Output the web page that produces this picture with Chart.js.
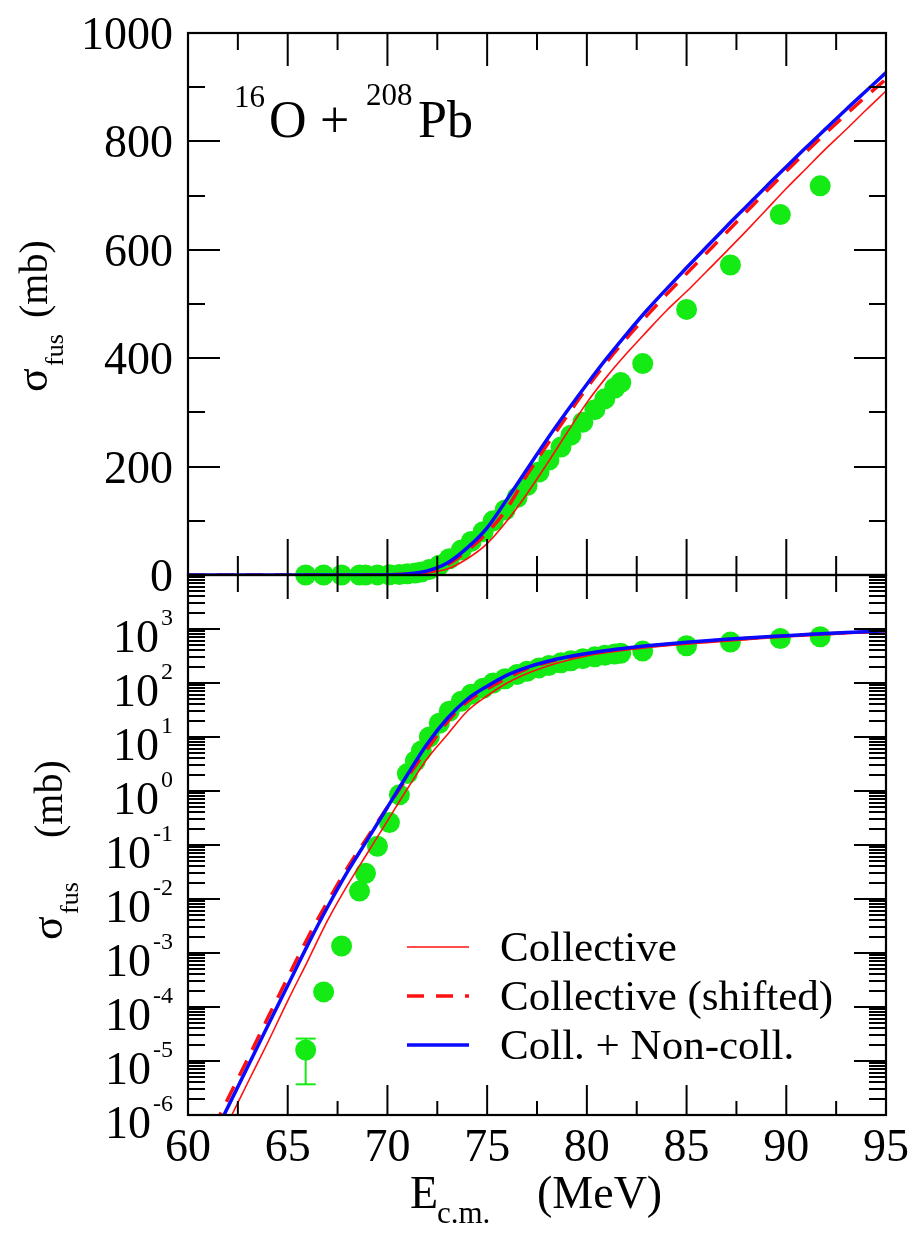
<!DOCTYPE html>
<html>
<head>
<meta charset="utf-8">
<script src="https://cdn.jsdelivr.net/npm/chart.js@4.4.1/dist/chart.umd.min.js"></script>
<style>
html, body { margin: 0; padding: 0; background: #fff; }
#wrap { position: relative; width: 916px; height: 1236px; }
canvas { position: absolute; left: 0; top: 0; }
</style>
</head>
<body>
<div id="wrap">
  <canvas id="linchart" width="916" height="1236"></canvas>
  <canvas id="logchart" width="916" height="1236"></canvas>
</div>
<script>
// energies (MeV) for the calculated curves
var energy = [60, 61, 62, 63, 64, 65, 66, 67, 68, 69, 70, 71, 72, 73, 74, 75, 76, 77,
              78, 79, 80, 81, 82, 83, 84, 85, 86, 87, 88, 89, 90, 91, 92, 93, 94, 95];
// sigma_fus (mb)
var collective = [2.2e-8, 1.3e-7, 7.1e-7, 4.0e-6, 2.2e-5, 1.3e-4, 7.1e-4, 4.0e-3, 1.8e-2, 7.1e-2,
                  0.28, 1.1, 4.0, 11, 30, 58, 100, 150, 205, 262, 318, 366, 409, 449, 488, 523,
                  560, 597, 635, 674, 713, 750, 787, 822, 858, 893];
var shifted = [6.3e-8, 3.5e-7, 2.0e-6, 1.1e-5, 6.3e-5, 3.5e-4, 1.9e-3, 8.9e-3, 3.8e-2, 0.14,
               0.5, 1.8, 6.0, 19, 45, 78, 123, 185, 240, 293, 345, 393, 437, 478, 518, 556,
               594, 632, 670, 708, 745, 781, 816, 850, 883, 915];
var nonColl = [4.5e-8, 2.5e-7, 1.4e-6, 7.9e-6, 4.5e-5, 2.5e-4, 1.4e-3, 7.1e-3, 3.2e-2, 0.126,
               0.5, 2.0, 7.5, 22, 50, 87, 140, 195, 250, 302, 352, 400, 445, 488, 528, 567,
               605, 643, 680, 717, 753, 789, 824, 859, 893, 927];

// experimental points
var expE = [65.9, 66.8, 67.7, 68.6, 68.9, 69.5, 70.1, 70.6, 71.0, 71.4, 71.7, 72.1, 72.6, 73.1,
            73.7, 74.2, 74.8, 75.3, 75.9, 76.5, 77.0, 77.6, 78.1, 78.7, 79.2, 79.8, 80.4, 80.9,
            81.4, 81.7, 82.8, 85.0, 87.2, 89.7, 91.7];
var expSigma = [1.6e-5, 1.9e-4, 1.35e-3, 1.4e-2, 3.0e-2, 9.5e-2, 0.26, 0.85, 2.1, 3.6, 5.5, 10,
                18, 30, 46, 62, 80, 100, 120, 143, 165, 190, 212, 236, 258, 282, 305, 325,
                345, 355, 390, 490, 572, 665, 718];
var errE = [65.9];
var errLow = [3.7e-6];
var errHigh = [2.6e-5];

// axes
var xMajor = [60, 65, 70, 75, 80, 85, 90, 95];
var xMinor = [62.5, 67.5, 72.5, 77.5, 82.5, 87.5, 92.5];
var linMajor = [0, 200, 400, 600, 800, 1000];
var linMinor = [100, 300, 500, 700, 900];
var logDecades = [-6, -5, -4, -3, -2, -1, 0, 1, 2, 3];

var serif = '"Liberation Serif", "Times New Roman", serif';
var green = '#14ea14';

function pts(xs, ys) {
    return xs.map(function(x, i){ return {x: x, y: ys[i]}; });
}

function curveSets(){
    return [
        {label: 'Collective', data: pts(energy, collective), showLine: true, pointRadius: 0,
         borderColor: '#ff1010', borderWidth: 1.6, cubicInterpolationMode: 'monotone', order: 3},
        {label: 'Collective (shifted)', data: pts(energy, shifted), showLine: true, pointRadius: 0,
         borderColor: '#ff1010', borderWidth: 3.5, borderDash: [17, 12],
         cubicInterpolationMode: 'monotone', order: 2},
        {label: 'Coll. + Non-coll.', data: pts(energy, nonColl), showLine: true, pointRadius: 0,
         borderColor: '#0a0aff', borderWidth: 3.5, cubicInterpolationMode: 'monotone', order: 1},
        {label: 'exp', data: pts(expE, expSigma), showLine: false, pointRadius: 10.5,
         pointBackgroundColor: green, pointBorderColor: green, pointBorderWidth: 0,
         clip: false, order: 10}
    ];
}

function tickLine(ctx, x1, y1, x2, y2){
    ctx.beginPath();
    ctx.moveTo(x1, y1);
    ctx.lineTo(x2, y2);
    ctx.stroke();
}

var framePlugin = {
    id: 'frame',
    afterDraw: function(chart, args, opt){
        var ctx = chart.ctx, a = chart.chartArea;
        var xs = chart.scales.x, ys = chart.scales.y;
        ctx.save();
        ctx.strokeStyle = '#000';
        ctx.lineWidth = 2;
        // x ticks top and bottom, pointing inward
        xMajor.forEach(function(v){
            var px = xs.getPixelForValue(v);
            tickLine(ctx, px, a.bottom, px, a.bottom - opt.xMajB);
            tickLine(ctx, px, a.top, px, a.top + opt.xMajT);
        });
        xMinor.forEach(function(v){
            var px = xs.getPixelForValue(v);
            tickLine(ctx, px, a.bottom, px, a.bottom - opt.xMinB);
            tickLine(ctx, px, a.top, px, a.top + opt.xMinT);
        });
        // y ticks left and right
        var majors = [], minors = [];
        if(opt.log){
            logDecades.forEach(function(d){
                majors.push(Math.pow(10, d));
                for(var m = 2; m <= 9; m++) minors.push(m * Math.pow(10, d));
            });
            majors.push(1e4);
        }
        else{
            majors = linMajor; minors = linMinor;
        }
        majors.forEach(function(v){
            var py = Math.round(ys.getPixelForValue(v));
            if(py < a.top - 1 || py > a.bottom + 1) return;
            tickLine(ctx, a.left, py, a.left + 32, py);
            tickLine(ctx, a.right, py, a.right - 32, py);
        });
        minors.forEach(function(v){
            var py = Math.round(ys.getPixelForValue(v));
            if(py < a.top || py > a.bottom) return;
            tickLine(ctx, a.left, py, a.left + 17, py);
            tickLine(ctx, a.right, py, a.right - 17, py);
        });
        ctx.lineWidth = 2.2;
        ctx.strokeRect(a.left, a.top, a.right - a.left, a.bottom - a.top);

        // tick labels
        ctx.fillStyle = '#000';
        ctx.textBaseline = 'alphabetic';
        var lx = a.left - 15;
        if(opt.log){
            logDecades.forEach(function(d){
                var py = ys.getPixelForValue(Math.pow(10, d));
                ctx.font = '24px ' + serif;
                ctx.textAlign = 'right';
                var sup = String(d);
                var w = ctx.measureText(sup).width;
                ctx.fillText(sup, lx, py - 4);
                ctx.font = '46px ' + serif;
                ctx.fillText('10', lx - w - 2, py + 23);
            });
            ctx.font = '46px ' + serif;
            ctx.textAlign = 'center';
            xMajor.forEach(function(v){
                ctx.fillText(String(v), xs.getPixelForValue(v), a.bottom + 46);
            });
        }
        else{
            ctx.font = '46px ' + serif;
            ctx.textAlign = 'right';
            linMajor.forEach(function(v){
                ctx.fillText(String(v), lx, ys.getPixelForValue(v) + 16);
            });
        }
        ctx.restore();
    }
};

var errorPlugin = {
    id: 'errbars',
    afterDatasetsDraw: function(chart){
        var ctx = chart.ctx, xs = chart.scales.x, ys = chart.scales.y;
        ctx.save();
        ctx.strokeStyle = green;
        ctx.lineWidth = 2;
        errE.forEach(function(e, i){
            var px = xs.getPixelForValue(e);
            var y1 = ys.getPixelForValue(errLow[i]), y2 = ys.getPixelForValue(errHigh[i]);
            tickLine(ctx, px, y1, px, y2);
            tickLine(ctx, px - 10, y1, px + 10, y1);
            tickLine(ctx, px - 10, y2, px + 10, y2);
        });
        ctx.restore();
    }
};

function baseOptions(pad, yScale, frameOpt){
    return {
        responsive: false,
        animation: false,
        devicePixelRatio: 1,
        layout: {padding: pad},
        plugins: {legend: {display: false}, tooltip: {enabled: false}, frame: frameOpt},
        scales: {
            x: {type: 'linear', min: 60, max: 95, display: false},
            y: yScale
        }
    };
}

// upper panel, linear
new Chart(document.getElementById('linchart').getContext('2d'), {
    type: 'scatter',
    data: {datasets: curveSets()},
    options: baseOptions({left: 188, right: 30, top: 33, bottom: 661},
        {type: 'linear', min: 0, max: 1000, display: false},
        {log: false, xMajB: 36, xMinB: 19, xMajT: 33, xMinT: 17}),
    plugins: [framePlugin, {
        id: 'reaction',
        afterDraw: function(chart){
            var ctx = chart.ctx;
            ctx.save();
            ctx.fillStyle = '#000';
            ctx.textBaseline = 'alphabetic';
            ctx.textAlign = 'left';
            ctx.font = '31px ' + serif;
            ctx.fillText('16', 234, 107);
            ctx.font = '52px ' + serif;
            ctx.fillText('O', 269, 137);
            ctx.fillText('+', 320, 137);
            ctx.font = '31px ' + serif;
            ctx.fillText('208', 366, 105);
            ctx.font = '52px ' + serif;
            ctx.fillText('Pb', 418, 137);
            // y title
            ctx.translate(47, 392);
            ctx.rotate(-Math.PI / 2);
            ctx.font = '44px ' + serif;
            ctx.fillText('\u03c3', 0, 0);
            ctx.font = '26px ' + serif;
            ctx.fillText('fus', 26, 16);
            ctx.font = '40px ' + serif;
            ctx.fillText('(mb)', 74, 0);
            ctx.restore();
        }
    }]
});

// lower panel, logarithmic
new Chart(document.getElementById('logchart').getContext('2d'), {
    type: 'scatter',
    data: {datasets: curveSets()},
    options: baseOptions({left: 188, right: 30, top: 575, bottom: 121},
        {type: 'logarithmic', min: 1e-6, max: 1e4, display: false},
        {log: true, xMajB: 30, xMinB: 14, xMajT: 24, xMinT: 17}),
    plugins: [framePlugin, errorPlugin, {
        id: 'titles',
        afterDraw: function(chart){
            var ctx = chart.ctx;
            ctx.save();
            ctx.fillStyle = '#000';
            ctx.textBaseline = 'alphabetic';
            ctx.textAlign = 'left';
            // x title
            ctx.font = '46px ' + serif;
            ctx.fillText('E', 410, 1208);
            ctx.font = '31px ' + serif;
            ctx.fillText('c.m.', 437, 1223);
            ctx.font = '46px ' + serif;
            ctx.fillText('(MeV)', 537, 1208);
            // legend
            var rows = [
                {y: 947, text: 'Collective', w: 1.6, dash: []},
                {y: 996, text: 'Collective (shifted)', w: 3.5, dash: [17, 12]},
                {y: 1045, text: 'Coll. + Non-coll.', w: 3.5, dash: []}
            ];
            var cols = ['#ff1010', '#ff1010', '#0a0aff'];
            rows.forEach(function(r, i){
                ctx.strokeStyle = cols[i];
                ctx.lineWidth = r.w;
                ctx.setLineDash(r.dash);
                tickLine(ctx, 407, r.y, 469, r.y);
                ctx.setLineDash([]);
                ctx.font = '43px ' + serif;
                ctx.fillText(r.text, 500, r.y + 14);
            });
            // y title
            ctx.translate(62, 940);
            ctx.rotate(-Math.PI / 2);
            ctx.font = '44px ' + serif;
            ctx.fillText('\u03c3', 0, 0);
            ctx.font = '26px ' + serif;
            ctx.fillText('fus', 26, 16);
            ctx.font = '40px ' + serif;
            ctx.fillText('(mb)', 102, 0);
            ctx.restore();
        }
    }]
});
</script>
</body>
</html>
